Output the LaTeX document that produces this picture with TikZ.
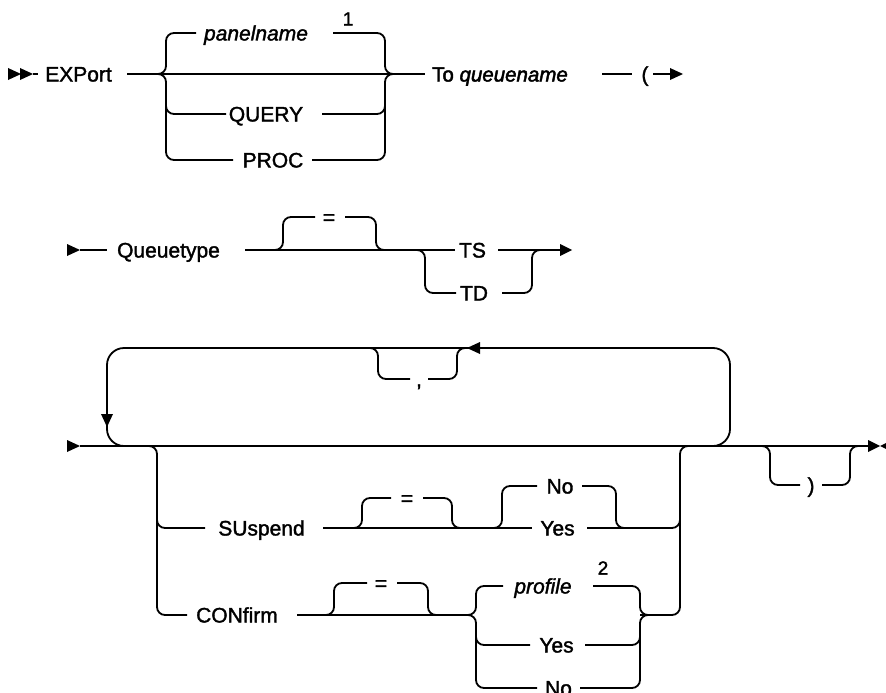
\documentclass[tikz,border=0pt]{standalone}
\usepackage{fontspec}
\setmainfont{Liberation Sans}
\newfontfamily\kwfont{Liberation Sans}[FakeBold=1.6]
\newfontfamily\tofont{Liberation Sans}[FakeBold=2.2]
\begin{document}
\begin{tikzpicture}[x=1pt,y=-1pt,
  ln/.style={line width=1.8pt, rounded corners=8pt},
  loopln/.style={line width=1.8pt, rounded corners=17pt},
  kw/.style={inner sep=0pt, text height=15pt, text depth=0pt, font=\kwfont\fontsize{21}{24}\selectfont},
  var/.style={kw, font=\kwfont\fontsize{21}{24}\selectfont\itshape},
  tofnt/.style={kw, font=\tofont\fontsize{20.5}{24}\selectfont},
  fn/.style={inner sep=0pt, font=\kwfont\fontsize{19}{21}\selectfont},
  tipf/.style={fill=black}]
\useasboundingbox (0,0) rectangle (886,693);

% ---------- row 1 ----------
\fill[tipf] (8,68) -- (21,74) -- (8,80) -- cycle;
\fill[tipf] (20,68) -- (33,74) -- (20,80) -- cycle;
\draw[ln] (33,74) -- (38,74);
\node[kw] (export) at (78.5,74) {EXPort};
\node[var] (panel) at (256,33) {panelname};
\node[fn] (fn1) at (348,19) {1};
\node[kw] (query) at (266,114) {QUERY};
\node[kw] (proc) at (273,160) {PROC};
\node[tofnt, anchor=west] (to) at (432,74) {To \textit{queuename}};
\node[kw] (lp) at (645,74) {(};
\draw[ln] (127,74) -- (425,74);
\draw[ln] (150,74) -- (166,74) -- (166,33) -- (196,33);
\draw[ln] (150,74) -- (166,74) -- (166,160) -- (233,160);
\draw[ln] (166,100) -- (166,114) -- (226,114);
\draw[ln] (333,33) -- (385,33) -- (385,74) -- (400,74);
\draw[ln] (312,160) -- (385,160) -- (385,74) -- (400,74);
\draw[ln] (322,114) -- (385,114) -- (385,100);
\draw[ln] (602,74) -- (632,74);
\draw[ln] (653,74) -- (672,74);
\fill[tipf] (670,68) -- (683,74) -- (670,80) -- cycle;

% ---------- row 2 ----------
\fill[tipf] (67,244) -- (80,250) -- (67,256) -- cycle;
\draw[ln] (80,250) -- (107,250);
\node[kw] (qt) at (168.5,250) {Queuetype};
\draw[ln] (245,250) -- (455,250);
\draw[ln] (270,250) -- (283,250) -- (283,217) -- (315,217);
\node[kw] (eq1) at (329,217) {=};
\draw[ln] (345,217) -- (376,217) -- (376,250) -- (390,250);
\node[kw] (ts) at (472.5,250) {TS};
\node[kw] (td) at (474,293) {TD};
\draw[ln] (410,250) -- (425,250) -- (425,293) -- (456,293);
\draw[ln] (498,250) -- (562,250);
\draw[ln] (502,293) -- (532,293) -- (532,250) -- (545,250);
\fill[tipf] (560,244) -- (572,250) -- (560,256) -- cycle;

% ---------- row 3 ----------
\fill[tipf] (67,440) -- (80,446) -- (67,452) -- cycle;
\draw[ln] (80,446) -- (870,446);
\fill[tipf] (868,440) -- (880,446) -- (868,452) -- cycle;
\fill[tipf] (892,440) -- (880,446) -- (892,452) -- cycle;
\draw[loopln] (700,446) -- (730,446) -- (730,348) -- (107,348) -- (107,446) -- (140,446);
\fill[tipf] (101,414) -- (113,414) -- (107,427) -- cycle;
\fill[tipf] (480,342) -- (467,348) -- (480,354) -- cycle;
\draw[ln] (365,348) -- (378,348) -- (378,379) -- (410,379);
\node[kw] (comma) at (419,379) {,};
\draw[ln] (428,379) -- (457,379) -- (457,348) -- (470,348);
\draw[ln] (755,446) -- (770,446) -- (770,485) -- (800,485);
\node[kw] (rp) at (811,485) {)};
\draw[ln] (822,485) -- (850,485) -- (850,446) -- (862,446);

% options
\draw[ln] (140,446) -- (157,446) -- (157,615) -- (187,615);
\draw[ln] (157,500) -- (157,528) -- (205,528);
\node[kw] (susp) at (261.5,528) {SUspend};
\node[kw] (conf) at (237,615) {CONfirm};
\draw[ln] (323,528) -- (532,528);
\draw[ln] (348,528) -- (362,528) -- (362,498) -- (391,498);
\node[kw] (eq2) at (407,498) {=};
\draw[ln] (423,498) -- (452,498) -- (452,528) -- (466,528);
\draw[ln] (488,528) -- (502,528) -- (502,486) -- (537,486);
\node[kw] (sno) at (560,486) {No};
\draw[ln] (582,486) -- (616,486) -- (616,528) -- (630,528);
\node[kw] (syes) at (557.5,528) {Yes};
\draw[ln] (587,528) -- (680,528) -- (680,500);
\draw[ln] (640,615) -- (680,615) -- (680,446) -- (700,446);

\draw[ln] (297,615) -- (470,615);
\draw[ln] (320,615) -- (334,615) -- (334,583) -- (367,583);
\node[kw] (eq3) at (381,583) {=};
\draw[ln] (397,583) -- (428,583) -- (428,615) -- (442,615);
\draw[ln] (455,615) -- (476,615) -- (476,586) -- (503,586);
\draw[ln] (455,615) -- (476,615) -- (476,688) -- (537,688);
\draw[ln] (476,630) -- (476,645) -- (530,645);
\node[var] (prof) at (543,586) {profile};
\node[fn] (fn2) at (603,568) {2};
\draw[ln] (593,586) -- (640,586) -- (640,615) -- (660,615);
\node[kw] (cyes) at (556.5,645) {Yes};
\draw[ln] (585,645) -- (640,645) -- (640,630);
\node[kw] (cno) at (558.5,688) {No};
\draw[ln] (580,688) -- (640,688) -- (640,615) -- (660,615);
\end{tikzpicture}
\end{document}
